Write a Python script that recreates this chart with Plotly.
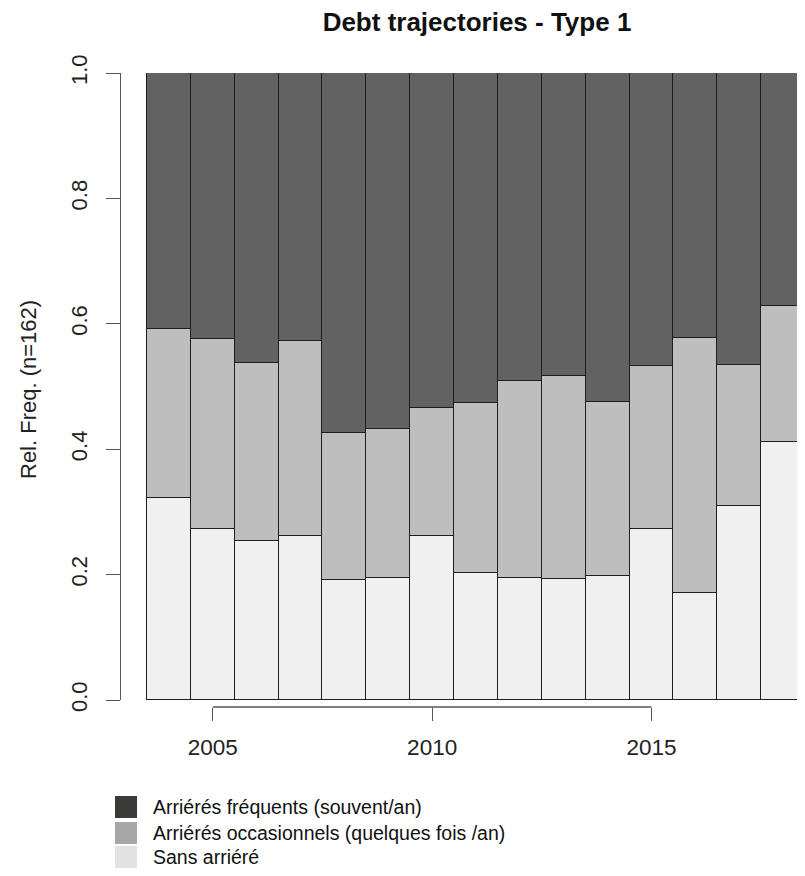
import plotly.graph_objects as go

# ---- data ----
years = list(range(2004, 2019))
states = ["Sans arriéré", "Arriérés occasionnels (quelques fois /an)", "Arriérés fréquents (souvent/an)"]
sans_arriere = [0.322, 0.272, 0.253, 0.261, 0.191, 0.194, 0.261, 0.203, 0.194, 0.193, 0.197, 0.273, 0.170, 0.310, 0.412]
occasionnels = [0.270, 0.303, 0.285, 0.311, 0.235, 0.238, 0.205, 0.270, 0.314, 0.323, 0.279, 0.260, 0.407, 0.224, 0.217]
frequents = [0.408, 0.425, 0.462, 0.428, 0.574, 0.568, 0.534, 0.527, 0.492, 0.484, 0.524, 0.467, 0.423, 0.466, 0.371]
series = [sans_arriere, occasionnels, frequents]
bar_colors = ["#f0f0f0", "#bebebe", "#626262"]
legend_colors = ["#e2e2e2", "#a8a6a5", "#3c3a39"]
x_ticks = [2005, 2010, 2015]
y_ticks = [0.0, 0.2, 0.4, 0.6, 0.8, 1.0]
y_tick_labels = ["0.0", "0.2", "0.4", "0.6", "0.8", "1.0"]
title = "Debt trajectories - Type 1"
y_title = "Rel. Freq. (n=162)"

# ---- layout geometry (window pixels; page body has an 8px margin) ----
OFF = 8
W, H = 805 - 2 * OFF, 876 - 2 * OFF          # keep page free of scrollbars
PLOT_LEFT, PLOT_TOP, PLOT_BOTTOM = 121, 73, 700
PLOT_RIGHT = OFF + W                          # right edge of figure in window px
PAPER_BOTTOM = 710
AXIS_Y = 707
BAR_PX = 43.87
M_L = PLOT_LEFT - OFF
M_T = PLOT_TOP - OFF
M_B = (OFF + H) - PAPER_BOTTOM
paper_h = PAPER_BOTTOM - PLOT_TOP
paper_w = PLOT_RIGHT - PLOT_LEFT

def px_x(px):
    return (px - PLOT_LEFT) / paper_w

def px_y(py):
    return (PAPER_BOTTOM - py) / paper_h

FONT = "Liberation Sans, Arial, Helvetica, sans-serif"

fig = go.Figure()
for name, vals, col in zip(states, series, bar_colors):
    fig.add_trace(go.Bar(
        x=years, y=vals, name=name, width=1.0,
        marker=dict(color=col, line=dict(color="#1e1e1e", width=1.4)),
        showlegend=False, hoverinfo="x+y+name",
    ))

shapes = []
# x-axis line spanning first to last tick (R style)
shapes.append(dict(type="line", xref="x", yref="paper",
                   x0=x_ticks[0], x1=x_ticks[-1], y0=px_y(AXIS_Y), y1=px_y(AXIS_Y),
                   line=dict(color="#555555", width=1.4)))

annotations = []
# custom legend
leg_rows = [807, 833, 857]
for i, idx in enumerate([2, 1, 0]):
    cy = leg_rows[i]
    shapes.append(dict(type="rect", xref="paper", yref="paper",
                       x0=px_x(115), x1=px_x(137), y0=px_y(cy - 11), y1=px_y(cy + 11),
                       fillcolor=legend_colors[idx], line=dict(width=0), layer="above"))
    annotations.append(dict(xref="paper", yref="paper", x=px_x(151), y=px_y(cy),
                            xanchor="left", yanchor="middle", showarrow=False,
                            text=states[idx], font=dict(family=FONT, size=19.5, color="#111111")))

annotations.append(dict(xref="paper", yref="paper", x=px_x(28), y=px_y(390),
                        xanchor="center", yanchor="middle", showarrow=False, textangle=-90,
                        text=y_title, font=dict(family=FONT, size=22, color="#222222")))

x_lo = years[0] - 0.5 - (147 - PLOT_LEFT) / BAR_PX
x_hi = x_lo + paper_w / BAR_PX

fig.update_layout(
    width=W, height=H,
    margin=dict(l=M_L, r=0, t=M_T, b=M_B, pad=0),
    barmode="stack", bargap=0,
    plot_bgcolor="white", paper_bgcolor="white",
    title=dict(text="<b>" + title + "</b>", x=px_x(477), xref="paper", xanchor="center",
               y=1 - (22 - OFF) / H, yanchor="middle", yref="container",
               font=dict(family=FONT, size=26, color="#111111")),
    xaxis=dict(range=[x_lo, x_hi], showgrid=False, zeroline=False,
               showline=False, anchor="free", position=px_y(AXIS_Y),
               tickmode="array", tickvals=x_ticks, ticktext=[str(t) for t in x_ticks],
               ticks="outside", ticklen=13, tickwidth=1.4, tickcolor="#555555",
               ticklabelstandoff=7,
               tickfont=dict(family=FONT, size=22.5, color="#222222")),
    yaxis=dict(range=[0, 1], domain=[px_y(PLOT_BOTTOM), 1], showgrid=False, zeroline=False,
               showline=True, linecolor="#555555", linewidth=1.4,
               tickmode="array", tickvals=y_ticks, ticktext=y_tick_labels, tickangle=-90,
               ticks="outside", ticklen=14, tickwidth=1.4, tickcolor="#555555",
               ticklabelstandoff=10,
               tickfont=dict(family=FONT, size=22, color="#222222")),
    shapes=shapes, annotations=annotations,
)

fig.write_html("out.html")
